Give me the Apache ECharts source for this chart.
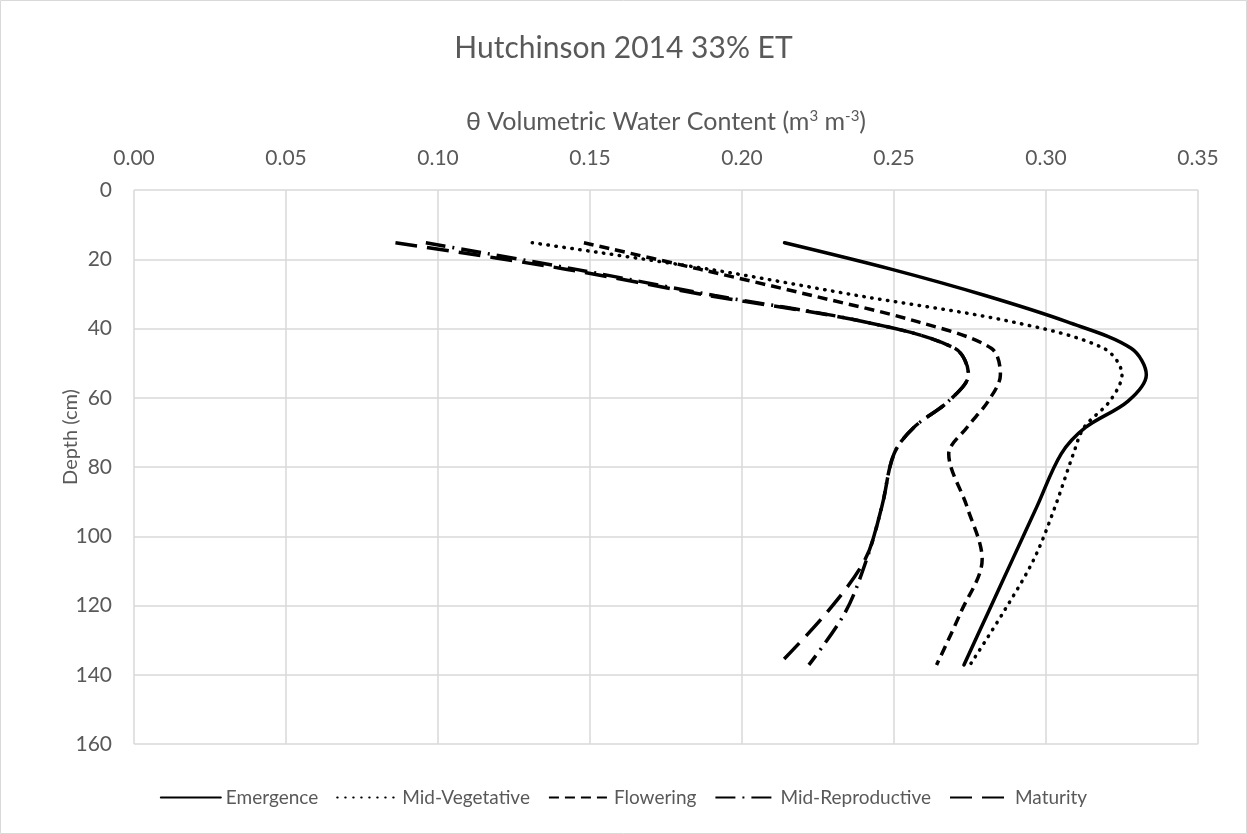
<!DOCTYPE html>
<html>
<head>
<meta charset="utf-8">
<script src="https://cdn.jsdelivr.net/npm/echarts@6/dist/echarts.min.js"></script>
<style>
html,body{margin:0;padding:0;background:#fff;}
#chart{width:1247px;height:834px;}
</style>
</head>
<body>
<div id="chart"></div>
<script>
// Depths (cm) at which the curves were read
const depths = [15.24, 22.86, 30.48, 38.1, 45.72, 53.34, 60.96, 68.58, 76.2, 91.44, 106.68, 121.92, 137.16];
// Volumetric water content (m3 m-3) per growth stage
const emergence       = [0.214, 0.249, 0.280, 0.307, 0.328, 0.333, 0.327, 0.313, 0.305, 0.297, 0.289, 0.281, 0.273];
const midVegetative   = [0.131, 0.189, 0.238, 0.289, 0.319, 0.325, 0.321, 0.3125, 0.309, 0.303, 0.296, 0.286, 0.275];
const flowering       = [0.148, 0.186, 0.223, 0.258, 0.282, 0.285, 0.281, 0.274, 0.268, 0.274, 0.279, 0.272, 0.264];
const midReproductive = [0.096, 0.145, 0.191, 0.2405, 0.270, 0.2745, 0.268, 0.2565, 0.250, 0.246, 0.241, 0.234, 0.222];
const maturity        = [0.086, 0.142, 0.189, 0.2405, 0.270, 0.2745, 0.268, 0.2565, 0.250, 0.246, 0.2405, 0.228, 0.212];
const seriesNames = ['Emergence', 'Mid-Vegetative', 'Flowering', 'Mid-Reproductive', 'Maturity'];
const xTickLabels = ['0.00', '0.05', '0.10', '0.15', '0.20', '0.25', '0.30', '0.35'];
const yTickLabels = ['0', '20', '40', '60', '80', '100', '120', '140', '160'];

const FONT = 'Lato';
const TXT = '#595959';
const styles = [
  {type: 'solid', width: 3.5, cap: 'round'},
  {type: [0.5, 7.5], width: 3.5, cap: 'round'},
  {type: [10, 6], width: 3.5, cap: 'butt'},
  {type: [20, 7, 2, 7], width: 3.5, cap: 'butt'},
  {type: [22, 10], width: 3.5, cap: 'butt'}
];
const allData = [emergence, midVegetative, flowering, midReproductive, maturity];

const chart = echarts.init(document.getElementById('chart'), null, {renderer: 'canvas'});
chart.setOption({
  backgroundColor: '#fff',
  animation: false,
  textStyle: {fontFamily: FONT, color: TXT},
  title: {
    text: 'Hutchinson 2014 33% ET',
    left: 'center', top: 28,
    textStyle: {fontFamily: FONT, fontSize: 30, fontWeight: 'normal', color: TXT}
  },
  graphic: [
    {
      type: 'rect', shape: {x: 0.5, y: 0.5, width: 1246, height: 833},
      style: {fill: 'none', stroke: '#d9d9d9', lineWidth: 1}, silent: true
    },
    {
      type: 'text', x: 71, y: 437, rotation: Math.PI / 2,
      style: {text: 'Depth (cm)', align: 'center', verticalAlign: 'middle',
              font: '20px Lato', fill: TXT}
    }
  ],
  grid: {left: 134, right: 49, top: 190, bottom: 90},
  legend: {
    bottom: 22, left: 'center',
    itemWidth: 60, itemHeight: 14, itemGap: 18,
    itemStyle: {opacity: 0},
    textStyle: {fontFamily: FONT, fontSize: 19, color: TXT},
    data: seriesNames
  },
  xAxis: {
    type: 'value', position: 'top', min: 0, max: 0.35, interval: 0.05,
    name: 'θ Volumetric Water Content (m{sup|3} m{sup|-3})',
    nameLocation: 'middle', nameGap: 56,
    nameTextStyle: {fontFamily: FONT, fontSize: 25, color: TXT,
      rich: {sup: {fontFamily: FONT, fontSize: 15, color: TXT, verticalAlign: 'top', lineHeight: 15}}},
    axisLine: {show: false}, axisTick: {show: false},
    axisLabel: {formatter: (v, i) => xTickLabels[i], fontFamily: FONT, fontSize: 21, color: TXT, margin: 21},
    splitLine: {show: true, lineStyle: {color: '#d9d9d9', width: 1.5}}
  },
  yAxis: {
    type: 'value', inverse: true, min: 0, max: 160, interval: 20,
    axisLine: {show: false}, axisTick: {show: false},
    axisLabel: {formatter: (v, i) => yTickLabels[i], fontFamily: FONT, fontSize: 21, color: TXT, margin: 22},
    splitLine: {show: true, lineStyle: {color: '#d9d9d9', width: 1.5}}
  },
  series: seriesNames.map((n, i) => ({
    name: n, type: 'line', smooth: 0.33, showSymbol: false, symbol: 'none',
    color: '#000',
    lineStyle: Object.assign({color: '#000'}, styles[i]),
    data: depths.map((d, k) => [allData[i][k], d])
  }))
});
</script>
</body>
</html>
